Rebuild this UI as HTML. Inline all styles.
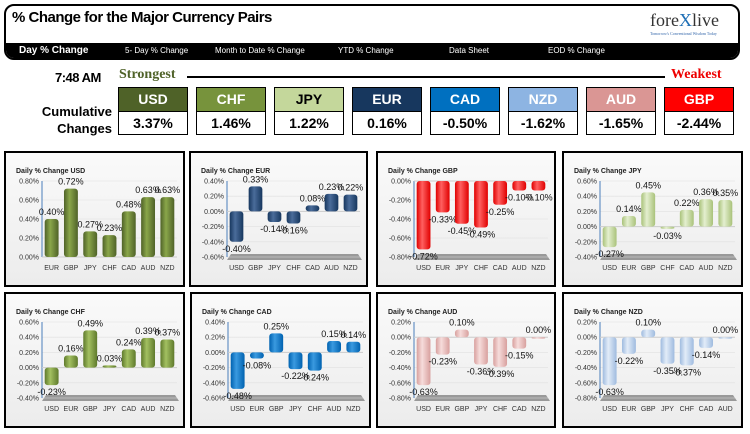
<!DOCTYPE html>
<html><head><meta charset="utf-8"><style>
body{margin:0;width:750px;height:434px;background:#fff;font-family:"Liberation Sans",sans-serif;overflow:hidden;position:relative}
.abs{position:absolute}
.cond{font-family:"Liberation Sans Narrow","Liberation Sans",sans-serif;font-weight:bold}
.box{position:absolute;width:68px;border:1px solid #000;text-align:center}
.box .h{height:23px;line-height:23px;color:#fff;font-size:14px;font-weight:bold;border-bottom:1px solid #000}
.box .v{height:22px;line-height:22px;font-size:14px;font-weight:bold;background:#fff}
.panel{position:absolute;border:2px solid #000;background:linear-gradient(#fafafa,#ececec);box-sizing:border-box}
</style></head><body>
<div class="abs" style="left:4px;top:4px;width:736px;height:56px;border:2px solid #000;border-radius:10px;box-sizing:border-box;overflow:hidden">
 <div class="abs" style="left:0;top:37px;width:100%;height:20px;background:#000"></div>
</div>
<div class="abs cond" style="left:12px;top:9px;font-size:15px;letter-spacing:-0.5px">% Change for the Major Currency Pairs</div>
<div class="abs" style="left:650px;top:10px;font-family:'Liberation Serif',serif;font-size:18px;color:#333">fore<span style="color:#1f6fb5">X</span>live<div style="font-size:4px;color:#3366aa">Tomorrow's Conventional Wisdom Today</div></div>
<div class="abs" style="left:0;top:45px;width:750px;font-size:8px;color:#fff">
 <span class="abs cond" style="left:19px;top:0;font-size:10px">Day % Change</span>
 <span class="abs" style="left:125px;top:1px">5- Day % Change</span>
 <span class="abs" style="left:215px;top:1px">Month to Date % Change</span>
 <span class="abs" style="left:338px;top:1px">YTD % Change</span>
 <span class="abs" style="left:449px;top:1px">Data Sheet</span>
 <span class="abs" style="left:548px;top:1px">EOD % Change</span>
</div>
<div class="abs cond" style="left:55px;top:70px;font-size:13px;letter-spacing:-0.5px">7:48 AM</div>
<div class="abs" style="left:119px;top:67px;font-family:'Liberation Serif',serif;font-weight:bold;font-size:14px;color:#4f6228">Strongest</div>
<div class="abs" style="left:187px;top:76px;width:478px;height:2px;background:#000"></div>
<div class="abs" style="left:671px;top:67px;font-family:'Liberation Serif',serif;font-weight:bold;font-size:14px;color:#e00">Weakest</div>
<div class="abs cond" style="left:36px;top:103px;font-size:13px;text-align:right;width:76px;line-height:17px">Cumulative<br>Changes</div>
<div id="boxes"></div>
<div id="panels"></div>
<script>
const rankCur=["USD","CHF","JPY","EUR","CAD","NZD","AUD","GBP"];
const rankVal=["3.37%","1.46%","1.22%","0.16%","-0.50%","-1.62%","-1.65%","-2.44%"];
const rankCol=["#4f6228","#77933c","#c4d79b","#17375e","#0070c0","#8db4e2","#da9694","#ff0000"];
const bx=[118,196,274,352,430,508,586,664];
const bEl=document.getElementById('boxes');
rankCur.forEach((c,i)=>{
 const d=document.createElement('div');d.className='box';
 d.style.left=bx[i]+'px';d.style.top='87px';
 
 
 d.innerHTML='<div class="h" style="background:'+rankCol[i]+';color:'+(i==2?'#000':'#fff')+'">'+c+'</div><div class="v">'+rankVal[i]+'</div>';
 bEl.appendChild(d);
});

const usdCats=["EUR","GBP","JPY","CHF","CAD","AUD","NZD"], usdVals=[0.40,0.72,0.27,0.23,0.48,0.63,0.63];
const eurCats=["USD","GBP","JPY","CHF","CAD","AUD","NZD"], eurVals=[-0.40,0.33,-0.14,-0.16,0.08,0.23,0.22];
const gbpCats=["USD","EUR","JPY","CHF","CAD","AUD","NZD"], gbpVals=[-0.72,-0.33,-0.45,-0.49,-0.25,-0.10,-0.10];
const jpyCats=["USD","EUR","GBP","CHF","CAD","AUD","NZD"], jpyVals=[-0.27,0.14,0.45,-0.03,0.22,0.36,0.35];
const chfCats=["USD","EUR","GBP","JPY","CAD","AUD","NZD"], chfVals=[-0.23,0.16,0.49,0.03,0.24,0.39,0.37];
const cadCats=["USD","EUR","GBP","JPY","CHF","AUD","NZD"], cadVals=[-0.48,-0.08,0.25,-0.22,-0.24,0.15,0.14];
const audCats=["USD","EUR","GBP","JPY","CHF","CAD","NZD"], audVals=[-0.63,-0.23,0.10,-0.36,-0.39,-0.15,0.00];
const nzdCats=["USD","EUR","GBP","JPY","CHF","CAD","AUD"], nzdVals=[-0.63,-0.22,0.10,-0.35,-0.37,-0.14,0.00];
const axisMin=[0,-0.6,-0.8,-0.4,-0.4,-0.6,-0.8,-0.8];
const axisMax=[0.8,0.4,0,0.6,0.6,0.4,0.2,0.2];

const charts=[
 {id:'usd',cats:usdCats,vals:usdVals,x:4,y:151,w:181,c:'#4f6228',l:'#8aa64a'},
 {id:'eur',cats:eurCats,vals:eurVals,x:189,y:151,w:179,c:'#17375e',l:'#4a6c9a'},
 {id:'gbp',cats:gbpCats,vals:gbpVals,x:376,y:151,w:180,c:'#e00000',l:'#ff6060'},
 {id:'jpy',cats:jpyCats,vals:jpyVals,x:562,y:151,w:181,c:'#a9c27a',l:'#e4efcf'},
 {id:'chf',cats:chfCats,vals:chfVals,x:4,y:292,w:181,c:'#5f7a2c',l:'#a3c061'},
 {id:'cad',cats:cadCats,vals:cadVals,x:190,y:292,w:181,c:'#0062b0',l:'#3a9ae0'},
 {id:'aud',cats:audCats,vals:audVals,x:376,y:292,w:180,c:'#d8a09e',l:'#f6dcdb'},
 {id:'nzd',cats:nzdCats,vals:nzdVals,x:562,y:292,w:181,c:'#9fbbdf',l:'#e2ecf8'}
];
const NS='http://www.w3.org/2000/svg';
const pEl=document.getElementById('panels');
charts.forEach((ch,k)=>{
 const p=document.createElement('div');p.className='panel';
 
 
 p.style.left=ch.x+'px';p.style.top=ch.y+'px';p.style.width=ch.w+'px';p.style.height='136px';
 pEl.appendChild(p);
 const s=document.createElementNS(NS,'svg');s.setAttribute('width',ch.w-4);s.setAttribute('height',132);
 s.style.position='absolute';s.style.left='0';s.style.top='0';
 p.appendChild(s);
 const mn=axisMin[k],mx=axisMax[k];
 const top=28,bot=104,left=36,right=ch.w-10;
 const Y=v=>bot-(v-mn)/(mx-mn)*(bot-top);
 const bw=(right-left)/ch.cats.length;
 const X=i=>left+bw*i+bw/2;
 let h='<defs><linearGradient id="g'+k+'" x1="0" x2="1"><stop offset="0" stop-color="'+ch.c+'"/><stop offset="0.4" stop-color="'+ch.l+'"/><stop offset="1" stop-color="'+ch.c+'"/></linearGradient></defs>';
 h+='<text x="10" y="20" font-size="7" font-weight="bold" fill="#222">Daily % Change '+ch.id.toUpperCase()+'</text>';
 if(mn<0) h+='<polygon points="'+(left)+','+(bot+3)+' '+(right+2)+','+(bot+3)+' '+(right-2)+','+(bot-3)+' '+(left+4)+','+(bot-3)+'" fill="#999"/>';
 for(let v=mn;v<=mx+1e-9;v+=0.2){
  const y=Y(v);
  h+='<line x1="'+left+'" x2="'+right+'" y1="'+y+'" y2="'+y+'" stroke="#e0e0e0" stroke-width="0.6"/>';
  h+='<text x="'+(left-3)+'" y="'+(y+2.5)+'" font-size="7" text-anchor="end" fill="#333">'+(Math.abs(v)<1e-9?'0.00':v.toFixed(2))+'%</text>';
 }
 h+='<line x1="'+left+'" x2="'+left+'" y1="'+top+'" y2="'+bot+'" stroke="#4a7ebb" stroke-width="1"/>';
 h+='<line x1="'+left+'" x2="'+right+'" y1="'+Y(0)+'" y2="'+Y(0)+'" stroke="#ccc" stroke-width="1"/>';
 s.innerHTML=h;
 ch.vals.forEach((v,i)=>{
  const y0=Y(0),y1=Y(v),w=bw*0.72,x=X(i)-w/2;
  const r=document.createElementNS(NS,'rect');
  
  
  r.setAttribute('x',x);r.setAttribute('width',w);
  r.setAttribute('y',Math.min(y0,y1));r.setAttribute('height',Math.max(1.5,Math.abs(y1-y0)));
  r.setAttribute('rx',3);r.setAttribute('fill','url(#g'+k+')');
  s.appendChild(r);
  const t=document.createElementNS(NS,'text');
  
  
  t.setAttribute('x',X(i));t.setAttribute('y',v>=0?y1-4:y1+10);
  t.setAttribute('font-size','9');t.setAttribute('text-anchor','middle');t.setAttribute('fill','#111');
  t.textContent=v.toFixed(2)+'%';s.appendChild(t);
  const c=document.createElementNS(NS,'text');
  
  
  c.setAttribute('x',X(i));c.setAttribute('y',bot+13);
  c.setAttribute('font-size','7');c.setAttribute('text-anchor','middle');c.setAttribute('fill','#333');
  c.textContent=ch.cats[i];s.appendChild(c);
 });
});
</script>
</body></html>
